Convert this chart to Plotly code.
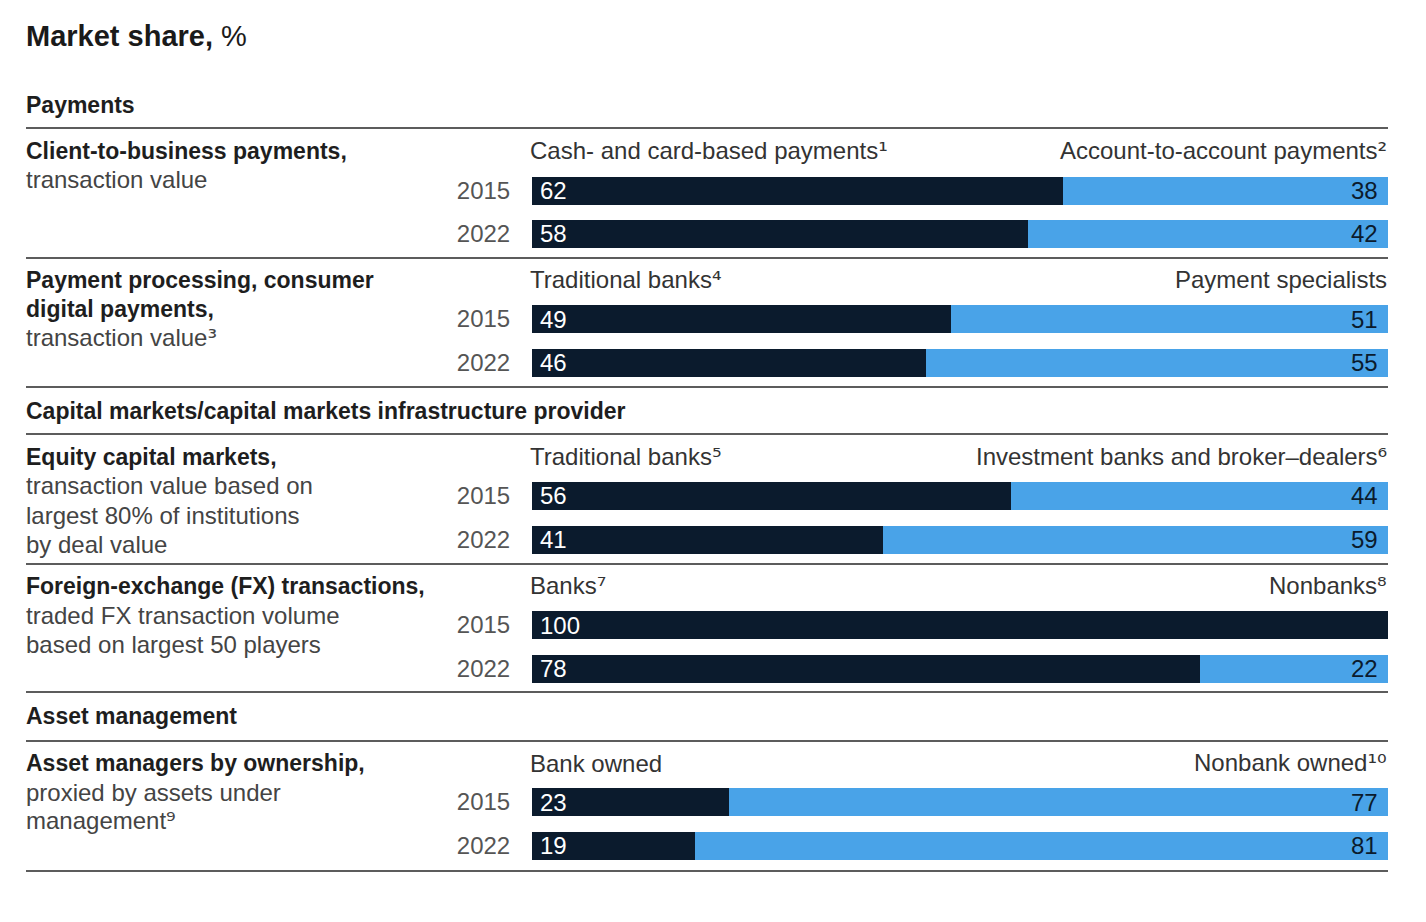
import plotly.graph_objects as go

# ---------------- data ----------------
title_bold = "Market share,"
title_rest = " %"

sections = ["Payments",
            "Capital markets/capital markets infrastructure provider",
            "Asset management"]

metric_labels = [
    ["Client-to-business payments,", "transaction value"],
    ["Payment processing, consumer", "digital payments,", "transaction value"],
    ["Equity capital markets,", "transaction value based on",
     "largest 80% of institutions", "by deal value"],
    ["Foreign-exchange (FX) transactions,", "traded FX transaction volume",
     "based on largest 50 players"],
    ["Asset managers by ownership,", "proxied by assets under", "management"],
]
metric_notes = ["", "3", "", "", "9"]      # footnote on the last line
metric_bold_lines = [1, 2, 1, 1, 1]

left_series = ["Cash- and card-based payments", "Traditional banks",
               "Traditional banks", "Banks", "Bank owned"]
left_notes = ["1", "4", "5", "7", ""]
right_series = ["Account-to-account payments", "Payment specialists",
                "Investment banks and broker–dealers", "Nonbanks", "Nonbank owned"]
right_notes = ["2", "", "6", "8", "10"]

years = ["2015", "2022"]
left_2015 = [62, 49, 56, 100, 23]
left_2022 = [58, 46, 41, 78, 19]
right_2015 = [38, 51, 44, 0, 77]
right_2022 = [42, 55, 59, 22, 81]

# ---------------- layout / style ----------------
W, H = 1426, 922
FONT = "Liberation Sans"
SUP_FONT = "DejaVu Sans"
DARK = "#0b1b2d"
BLUE = "#49a3e8"
RULE = "#5c5c5c"
FS = 24          # regular text size
FSB = 23         # bold text size

X0, X1 = 26, 1388          # content left / right (px)
TX0 = X0 - 2               # text anchor (annotation padding compensation)
BAR_X0 = 532               # bar start (px)
TITLE_Y = 36
SECTION_Y = [105, 411, 716]
RULES_Y = [128, 258, 387, 434, 564, 692, 741, 871]
LABEL_Y = [151, 280, 457, 586, 763]
LINE_STEP = 29
BAR_C = [190.5, 319, 496, 625, 802]
BAR_STEP = 43.5
BAR_H = 28

SUP_DIGITS = str.maketrans("0123456789", "⁰¹²³⁴⁵⁶⁷⁸⁹")


def fx(p):
    return p / W


def fy(p):
    return 1 - p / H


def with_note(text, note):
    if not note:
        return text
    return f"{text}<span style=\"font-family:'{SUP_FONT}'\">{note.translate(SUP_DIGITS)}</span>"


fig = go.Figure()
annotations = []
shapes = []
layout_axes = {}

for i in range(len(metric_labels)):
    n = "" if i == 0 else str(i + 1)
    xa, ya = "x" + n, "y" + n
    fig.add_trace(go.Bar(x=[left_2015[i], left_2022[i]], y=years, orientation="h",
                         marker=dict(color=DARK, line=dict(width=0)),
                         xaxis=xa, yaxis=ya, showlegend=False, hoverinfo="x"))
    fig.add_trace(go.Bar(x=[right_2015[i], right_2022[i]], y=years, orientation="h",
                         marker=dict(color=BLUE, line=dict(width=0)),
                         xaxis=xa, yaxis=ya, showlegend=False, hoverinfo="x"))
    c1 = BAR_C[i]
    c2 = c1 + BAR_STEP
    layout_axes["xaxis" + n] = dict(domain=[fx(BAR_X0), fx(X1)], range=[0, 100],
                                   visible=False, anchor=ya, fixedrange=True)
    layout_axes["yaxis" + n] = dict(domain=[fy(c2 + BAR_STEP / 2), fy(c1 - BAR_STEP / 2)],
                                   type="category", categoryorder="array",
                                   categoryarray=years, range=[1.5, -0.5],
                                   anchor=xa, showgrid=False, zeroline=False,
                                   showline=False, ticks="outside", ticklen=16,
                                   tickcolor="rgba(0,0,0,0)",
                                   tickfont=dict(family=FONT, size=FS, color="#555555"),
                                   fixedrange=True)
    # value labels (category axis -> positions are category indices)
    for k, (lv, rv) in enumerate(zip([left_2015[i], left_2022[i]],
                                     [right_2015[i], right_2022[i]])):
        if lv > 0:
            annotations.append(dict(xref=xa, yref=ya, x=0, y=k, text=str(lv),
                                    xanchor="left", yanchor="middle", xshift=6,
                                    showarrow=False,
                                    font=dict(family=FONT, size=FS, color="white")))
        if rv > 0:
            annotations.append(dict(xref=xa, yref=ya, x=100, y=k, text=str(rv),
                                    xanchor="right", yanchor="middle", xshift=-8,
                                    showarrow=False,
                                    font=dict(family=FONT, size=FS, color=DARK)))
    # series labels
    annotations.append(dict(xref="paper", yref="paper", x=fx(BAR_X0 - 4), y=fy(LABEL_Y[i]),
                            text=with_note(left_series[i], left_notes[i]),
                            xanchor="left", yanchor="middle",
                            showarrow=False, font=dict(family=FONT, size=FS, color="#333333")))
    annotations.append(dict(xref="paper", yref="paper", x=fx(X1 + 1), y=fy(LABEL_Y[i]),
                            text=with_note(right_series[i], right_notes[i]),
                            xanchor="right", yanchor="middle",
                            showarrow=False, font=dict(family=FONT, size=FS, color="#333333")))
    # metric labels
    n_lines = len(metric_labels[i])
    for k, line in enumerate(metric_labels[i]):
        bold = k < metric_bold_lines[i]
        txt = f"<b>{line}</b>" if bold else line
        if k == n_lines - 1:
            txt = with_note(txt, metric_notes[i])
        annotations.append(dict(xref="paper", yref="paper", x=fx(TX0), y=fy(LABEL_Y[i] + k * LINE_STEP),
                                text=txt, xanchor="left", yanchor="middle", showarrow=False,
                                font=dict(family=FONT, size=FSB if bold else FS,
                                          color="#1e1e1e" if bold else "#444444")))

# title
annotations.append(dict(xref="paper", yref="paper", x=fx(TX0), y=fy(TITLE_Y),
                        text=f"<b>{title_bold}</b>{title_rest}", xanchor="left",
                        yanchor="middle", showarrow=False,
                        font=dict(family=FONT, size=29, color="#1a1a1a")))
# section headers
for s, sy in zip(sections, SECTION_Y):
    annotations.append(dict(xref="paper", yref="paper", x=fx(TX0), y=fy(sy),
                            text=f"<b>{s}</b>", xanchor="left", yanchor="middle",
                            showarrow=False, font=dict(family=FONT, size=FSB, color="#1e1e1e")))
# rules
for ry in RULES_Y:
    shapes.append(dict(type="line", xref="paper", yref="paper",
                       x0=fx(X0), x1=fx(X1), y0=fy(ry), y1=fy(ry),
                       line=dict(color=RULE, width=2)))

fig.update_layout(
    width=W, height=H,
    margin=dict(l=0, r=0, t=0, b=0),
    paper_bgcolor="white", plot_bgcolor="white",
    barmode="stack", bargap=1 - BAR_H / BAR_STEP,
    annotations=annotations, shapes=shapes,
    font=dict(family=FONT),
    **layout_axes,
)

fig.write_html("out.html",
               config={"displayModeBar": False},
               post_script="document.body.style.margin='0px';document.body.style.overflow='hidden';")
